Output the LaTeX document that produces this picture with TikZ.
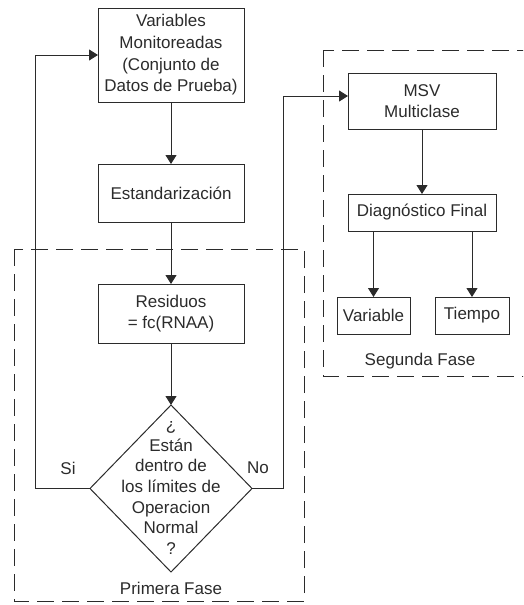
\documentclass[tikz,border=0pt]{standalone}
\usepackage{fontspec}
\setmainfont{Liberation Sans}
\usetikzlibrary{shapes.geometric,arrows.meta}
\definecolor{ink}{HTML}{2B2B2B}
\tikzset{
  stepbox/.style={draw=ink, line width=1pt, inner sep=0pt, outer sep=0pt,
    align=center, text=ink, font=\fontsize{17}{21.7}\selectfont},
  decision/.style={draw=ink, line width=1pt, diamond, inner sep=0pt, outer sep=0pt,
    minimum width=162pt, minimum height=167pt},
  plain/.style={text=ink, align=center, inner sep=0pt, font=\fontsize{17}{21.7}\selectfont},
  arr/.style={draw=ink, line width=1pt, -{Triangle[width=11pt,length=9pt]}},
  phase/.style={draw=ink, line width=1pt, dash pattern=on 17pt off 8pt}
}
\begin{document}
\begin{tikzpicture}[x=1pt,y=-1pt]
\useasboundingbox (0,0) rectangle (523,605);
\clip (0,0) rectangle (523,605);

% phase frames
\draw[phase] (14,249) rectangle (304,601);
\draw[phase] (323,50) rectangle (540,376);
\node[plain] (fase1) at (171,588) {Primera Fase};
\node[plain] (fase2) at (420,361) {Segunda Fase};

% first phase: detection
\node[stepbox, minimum width=146pt, minimum height=94pt] (vm) at (171,55)
  {Variables\\Monitoreadas\\(Conjunto de\\Datos de Prueba)};
\node[stepbox, minimum width=146pt, minimum height=58pt] (est) at (171,193)
  {Estandarización};
\node[stepbox, minimum width=146pt, minimum height=59pt] (res) at (171,313.5)
  {Residuos\\= fc(RNAA)};
\node[decision] (dec) at (171,488.5) {};
\node[plain, font=\fontsize{17}{20.7}\selectfont] (dectext) at (171,488)
  {¿\\Están\\dentro de\\los límites de\\Operacion\\Normal\\?};

% second phase: diagnosis
\node[stepbox, minimum width=148pt, minimum height=56pt] (msv) at (422,101)
  {MSV\\Multiclase};
\node[stepbox, minimum width=148pt, minimum height=37pt] (diag) at (422,212.5)
  {Diagnóstico Final};
\node[stepbox, minimum width=73pt, minimum height=37pt] (var) at (373.5,315.5)
  {Variable};
\node[stepbox, minimum width=74pt, minimum height=37pt] (tie) at (472,315.5)
  {Tiempo};

% flow of the first phase
\draw[arr] (vm) -- (est);
\draw[arr] (est) -- (res);
\draw[arr] (res) -- (dec.north);

% branches out of the decision
\draw[arr] (dec.west) -- ++(-55,0) |- (vm.west);
\draw[arr] (dec.east) -- ++(31,0) |- ([yshift=5pt]msv.west);
\node[plain] (si) at (68,468) {Si};
\node[plain] (no) at (258,468) {No};

% flow of the second phase
\draw[arr] (msv) -- (diag);
\draw[arr] (diag.south -| var.north) -- (var.north);
\draw[arr] (diag.south -| tie.north) -- (tie.north);
\end{tikzpicture}
\end{document}
